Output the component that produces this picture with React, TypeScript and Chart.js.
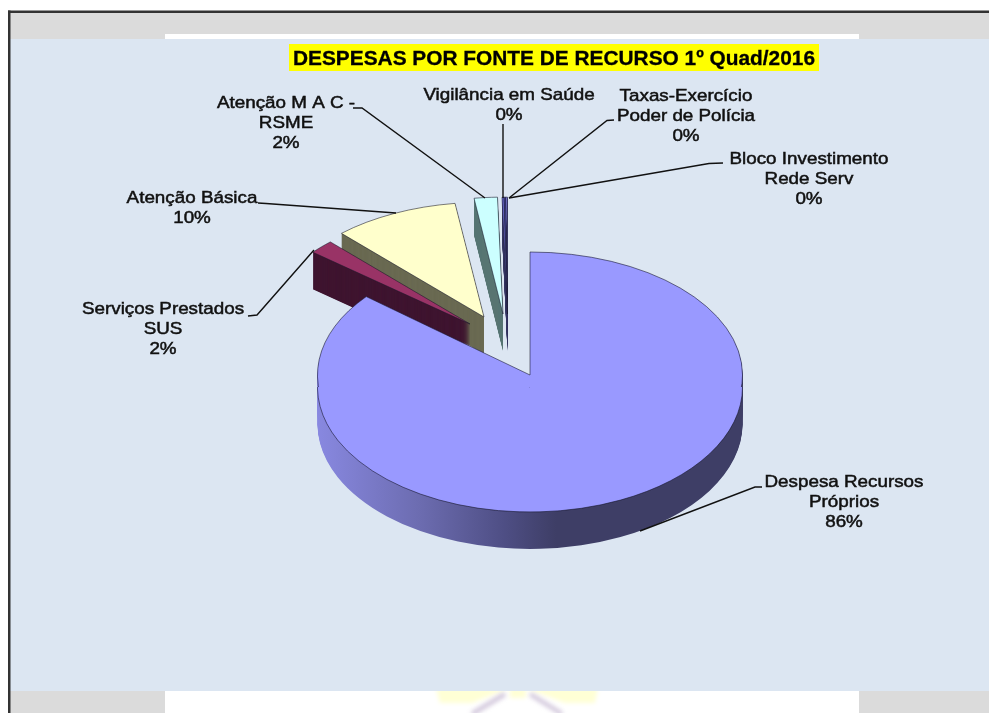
import React, { useEffect, useRef } from "react";
import { Chart, registerables } from "chart.js";

Chart.register(...registerables);

// ---- data ----
const categories = [
  ["Despesa Recursos", "Próprios"],
  ["Serviços Prestados", "SUS"],
  ["Atenção Básica"],
  ["Atenção M A C -", "RSME"],
  ["Vigilância em Saúde"],
  ["Taxas-Exercício", "Poder de Polícia"],
  ["Bloco Investimento", "Rede Serv"],
];
const values = [86.0, 2.0, 9.78, 1.8, 0.14, 0.14, 0.14];
const percentLabels = ["86%", "2%", "10%", "2%", "0%", "0%", "0%"];
const titleText = "DESPESAS POR FONTE DE RECURSO 1º Quad/2016";

// ---- styling ----
const topColors = ["#9999FF", "#993366", "#FFFFCC", "#CCFFFF", "#7272DC", "#4C4CA8", "#8484E6"];
const wallColors = ["", "#3F1530", "#6A6A52", "#587674", "#3A3A66", "#333358", "#3A3A66"];
// where each exploded slice's tip lands on the page and how flat it is drawn
const placement = [
  null,
  { x: 470, y: 324, sx: 0.96, k: 0.53 },
  { x: 484, y: 317, sx: 0.98, k: 0.54 },
  { x: 503, y: 314, sx: 0.98, k: 0.55 },
  { x: 507.5, y: 314, sx: 0.98, k: 0.55 },
  { x: 507.5, y: 314, sx: 0.98, k: 0.55 },
  { x: 507.5, y: 314, sx: 0.98, k: 0.55 },
];
const drawOrder = [6, 5, 4, 3, 2, 1, 0];
const DEPTH = 37;
const CX = 530;
const CY = 375;
const RADIUS = 212.5;
const SEAM_Y = 387;
const K_TOP = 123 / RADIUS;
const K_BOTTOM = 125 / RADIUS;

const labelLayout = [
  { cx: 844, y: 482 },
  { cx: 163, y: 309 },
  { cx: 192, y: 198 },
  { cx: 286, y: 103 },
  { cx: 509, y: 95 },
  { cx: 686, y: 96 },
  { cx: 809, y: 159 },
];
const labelLineGap = 20;
const leaders = [
  [[762, 487], [755, 487], [640, 531]],
  [[248, 316], [257, 315], [314, 250]],
  [[258, 203], [266, 203.5], [396, 213]],
  [[353, 108], [362, 108], [485, 198]],
  [[503, 124], [503, 198]],
  [[614, 120], [607, 120.5], [509, 198]],
  [[723, 163], [709, 163.5], [509, 198]],
];

function drawArcWith(ctx: any, arc: any, color: any, border: boolean) {
  const saved = arc.options;
  arc.options = {
    ...saved,
    backgroundColor: color,
    borderWidth: border ? 0.9 : 0,
    borderColor: "rgba(20,20,40,0.8)",
  };
  arc.draw(ctx);
  arc.options = saved;
}

const pageBackground = {
  id: "pageBackground",
  beforeDraw(chart: any) {
    const { ctx } = chart;
    ctx.save();
    ctx.fillStyle = "#FFFFFF";
    ctx.fillRect(0, 0, 989, 713);
    ctx.fillStyle = "#DBDBDB";
    ctx.fillRect(10, 13, 979, 26);
    ctx.fillRect(10, 691, 155, 22);
    ctx.fillRect(859, 691, 130, 22);
    ctx.fillStyle = "#FFFFFF";
    ctx.fillRect(165, 34, 694, 5);

    // faint logo peeking out under the panel
    ctx.save();
    ctx.filter = "blur(2px)";
    ctx.fillStyle = "rgba(255,255,190,0.65)";
    ctx.beginPath();
    ctx.moveTo(436, 688);
    ctx.lineTo(510, 688);
    ctx.lineTo(472, 703);
    ctx.lineTo(440, 703);
    ctx.closePath();
    ctx.fill();
    ctx.beginPath();
    ctx.moveTo(598, 688);
    ctx.lineTo(525, 688);
    ctx.lineTo(565, 703);
    ctx.lineTo(595, 703);
    ctx.closePath();
    ctx.fill();
    ctx.fillRect(510, 688, 16, 10);
    ctx.strokeStyle = "rgba(190,175,205,0.65)";
    ctx.lineWidth = 5;
    ctx.beginPath();
    ctx.moveTo(505, 694);
    ctx.lineTo(472, 714);
    ctx.moveTo(530, 694);
    ctx.lineTo(562, 714);
    ctx.stroke();
    ctx.restore();

    ctx.fillStyle = "#DCE6F2";
    ctx.fillRect(10, 39, 979, 652);
    ctx.fillStyle = "#333333";
    ctx.fillRect(8, 10.5, 981, 2.5);
    ctx.fillRect(8, 10.5, 2.5, 702.5);
    ctx.restore();
  },
};

const flatPie = {
  id: "flatPie",
  beforeDatasetDraw(chart: any, args: any) {
    const { ctx } = chart;
    const arcs = args.meta.data;
    const mainWall = ctx.createLinearGradient(318, 0, 743, 0);
    mainWall.addColorStop(0, "#8888E0");
    mainWall.addColorStop(0.24, "#6C6CB0");
    mainWall.addColorStop(0.44, "#4E4E84");
    mainWall.addColorStop(0.56, "#3E3E66");
    mainWall.addColorStop(1, "#3E3E66");

    for (const i of drawOrder) {
      const arc = arcs[i];
      const p = placement[i];
      if (p) {
        const paint = (dy: number, color: string, border: boolean) => {
          ctx.save();
          ctx.translate(p.x, p.y + dy);
          ctx.scale(p.sx, p.k);
          ctx.translate(-arc.x, -arc.y);
          drawArcWith(ctx, arc, color, border);
          ctx.restore();
        };
        for (let d = DEPTH; d >= 0.5; d -= 0.5) paint(d, wallColors[i], false);
        paint(0, topColors[i], true);
      } else {
        // the big slice: its near part is drawn with a lower centre, as perspective does
        const paint = (dy: number, color: any, border: boolean) => {
          [
            { k: K_TOP, c: CY, top: 0, h: SEAM_Y + dy + 0.5 },
            { k: K_BOTTOM, c: SEAM_Y, top: SEAM_Y + dy, h: 713 },
          ].forEach((part) => {
            ctx.save();
            ctx.beginPath();
            ctx.rect(0, part.top, 989, part.h);
            ctx.clip();
            ctx.translate(CX, part.c + dy);
            ctx.scale(1, part.k);
            ctx.translate(-arc.x, -arc.y);
            drawArcWith(ctx, arc, color, border);
            ctx.restore();
          });
        };
        for (let d = DEPTH; d >= 1; d--) paint(d, mainWall, false);
        paint(0, topColors[i], true);
      }
    }
    return false;
  },
};

function stretchedText(ctx: any, text: string, cx: number, y: number) {
  ctx.save();
  ctx.translate(cx, y);
  ctx.scale(1.107, 1);
  ctx.fillText(text, 0, 0);
  ctx.strokeText(text, 0, 0);
  ctx.restore();
}

const annotations = {
  id: "annotations",
  afterDatasetsDraw(chart: any) {
    const { ctx } = chart;
    ctx.save();
    ctx.strokeStyle = "#111111";
    ctx.lineWidth = 1.4;
    leaders.forEach((pts) => {
      ctx.beginPath();
      pts.forEach(([x, y], n) => (n ? ctx.lineTo(x, y) : ctx.moveTo(x, y)));
      ctx.stroke();
    });

    ctx.textAlign = "center";
    ctx.textBaseline = "middle";
    ctx.fillStyle = "#111111";
    ctx.strokeStyle = "#111111";
    ctx.lineWidth = 0.5;
    ctx.font = '17px "Liberation Sans", Arial, sans-serif';
    categories.forEach((lines, i) => {
      const { cx, y } = labelLayout[i];
      [...lines, percentLabels[i]].forEach((t, n) => {
        stretchedText(ctx, t, cx, y + n * labelLineGap);
      });
    });

    ctx.fillStyle = "#FFFF00";
    ctx.fillRect(289, 44, 530, 27);
    ctx.fillStyle = "#000000";
    ctx.strokeStyle = "#000000";
    ctx.lineWidth = 0.3;
    ctx.font = 'bold 20.5px "Liberation Sans", Arial, sans-serif';
    const w = ctx.measureText(titleText).width;
    ctx.translate(554, 59);
    ctx.scale(522 / w, 1);
    ctx.fillText(titleText, 0, 0);
    ctx.strokeText(titleText, 0, 0);
    ctx.restore();
  },
};

export default function App() {
  const ref = useRef<HTMLCanvasElement>(null);
  useEffect(() => {
    document.body.style.margin = "0";
    const chart = new Chart(ref.current as HTMLCanvasElement, {
      type: "pie",
      data: {
        labels: categories.map((c) => c.join(" ")),
        datasets: [{ data: values, backgroundColor: topColors, borderWidth: 0 }],
      },
      options: {
        responsive: false,
        animation: false,
        radius: RADIUS,
        layout: { padding: { left: 71, top: 37 } },
        plugins: { legend: { display: false }, tooltip: { enabled: false }, title: { display: false } },
        events: [],
      } as any,
      plugins: [pageBackground, flatPie, annotations],
    });
    return () => chart.destroy();
  }, []);
  return <canvas ref={ref} width={989} height={713} style={{ display: "block" }} />;
}
